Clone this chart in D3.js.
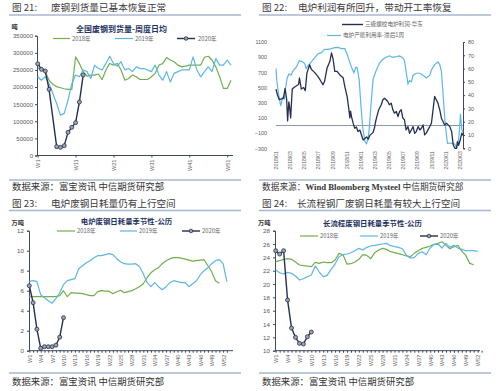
<!DOCTYPE html>
<html><head><meta charset="utf-8">
<script src="https://cdn.jsdelivr.net/npm/d3@7"></script>
<style>body{margin:0;background:#fff}svg{display:block}</style>
</head><body>
<svg id="c" width="500" height="391"></svg>
<script>
// ---------------- DATA ----------------
// Fig 21: scrap arrivals, weekly daily average (tons)
const p1TickWeeks = [1, 11, 21, 31, 41, 51];
const p1YTicks = [0, 50000, 100000, 150000, 200000, 250000, 300000, 350000];
const arrival2018 = [256000,251000,245000,220000,208000,201000,198000,195000,193000,193000,288000,269000,245000,232000,235000,235000,238000,222000,250000,269000,264000,269000,250000,220000,225000,235000,230000,222000,222000,222000,230000,240000,264000,269000,286000,279000,274000,264000,259000,261000,264000,264000,264000,264000,287000,290000,279000,259000,230000,196000,196000,220000];
const arrival2019 = [230000,220000,230000,210000,181000,152000,118000,123000,162000,210000,235000,230000,250000,245000,225000,264000,254000,250000,269000,290000,269000,261000,274000,250000,254000,245000,259000,254000,254000,250000,245000,264000,235000,220000,245000,215000,240000,245000,250000,250000,250000,288000,250000,230000,245000,259000,245000,283000,264000,264000,279000,264000];
const arrival2020 = [268000,251700,246800,193300,null,25800,23800,28700,67700,82300,95900,156300,235100];

// Fig 22: EAF profit (left) and EAF capacity utilisation lagged 1 week (right)
const profitDates = ["2018-01-01","2018-01-07","2018-01-15","2018-01-25","2018-02-02","2018-02-09","2018-02-16","2018-02-20","2018-02-25","2018-02-28","2018-03-05","2018-03-12","2018-03-19","2018-03-29","2018-04-08","2018-04-12","2018-04-20","2018-04-30","2018-05-07","2018-05-14","2018-05-26","2018-06-02","2018-06-16","2018-06-30","2018-07-10","2018-07-22","2018-07-29","2018-08-09","2018-08-21","2018-08-28","2018-09-04","2018-09-11","2018-09-21","2018-10-02","2018-10-17","2018-10-24","2018-11-03","2018-11-11","2018-11-15","2018-11-18","2018-11-22","2018-11-29","2018-12-06","2018-12-13","2018-12-20","2018-12-28","2019-01-04","2019-01-11","2019-01-19","2019-01-26","2019-02-02","2019-02-09","2019-02-23","2019-03-01","2019-03-05","2019-03-11","2019-03-19","2019-03-30","2019-04-06","2019-04-13","2019-04-20","2019-04-27","2019-05-04","2019-05-12","2019-05-19","2019-05-26","2019-06-03","2019-06-10","2019-06-17","2019-06-24","2019-07-01","2019-07-08","2019-07-15","2019-07-23","2019-07-30","2019-08-07","2019-08-14","2019-08-21","2019-08-28","2019-09-05","2019-09-12","2019-09-19","2019-09-26","2019-10-03","2019-10-10","2019-10-17","2019-10-25","2019-11-01","2019-11-08","2019-11-15","2019-11-22","2019-11-29","2019-12-07","2019-12-14","2019-12-21","2019-12-28","2020-01-05","2020-01-12","2020-01-19","2020-01-27","2020-02-03","2020-02-10","2020-02-17","2020-02-21","2020-02-26","2020-03-04","2020-03-11","2020-03-16"];
const profitValues = [480,405,340,350,360,490,340,60,310,260,100,480,500,520,540,626,480,500,460,690,800,740,700,647,600,537,580,758,846,957,870,714,714,670,630,516,383,207,100,190,118,31,-35,-20,-80,-60,-124,-190,-170,-150,-180,-130,-90,-30,40,118,207,273,339,360,340,317,273,295,207,163,185,118,185,207,97,75,-58,-14,-102,-58,-14,-102,-80,-14,-58,-36,8,-124,-100,-58,-14,30,207,383,339,295,207,97,52,8,30,8,-14,-80,-256,-300,-300,-213,-260,-190,-100,-130];
const rateDates = ["2018-01-01","2018-01-04","2018-01-11","2018-01-21","2018-01-29","2018-02-06","2018-02-11","2018-02-18","2018-02-26","2018-03-07","2018-03-14","2018-03-29","2018-04-12","2018-04-26","2018-05-04","2018-05-11","2018-05-18","2018-06-02","2018-06-16","2018-06-30","2018-07-15","2018-07-29","2018-08-13","2018-08-28","2018-09-11","2018-09-25","2018-10-10","2018-10-24","2018-11-03","2018-11-12","2018-11-22","2018-12-02","2018-12-11","2018-12-16","2018-12-25","2019-01-01","2019-01-09","2019-01-19","2019-01-26","2019-02-02","2019-02-06","2019-02-15","2019-02-23","2019-03-07","2019-03-22","2019-04-06","2019-04-20","2019-05-04","2019-05-19","2019-06-03","2019-06-17","2019-07-01","2019-07-08","2019-07-15","2019-07-23","2019-07-30","2019-08-07","2019-08-14","2019-08-28","2019-09-12","2019-09-26","2019-10-10","2019-10-25","2019-11-01","2019-11-15","2019-11-29","2019-12-07","2019-12-14","2019-12-21","2019-12-28","2020-01-02","2020-01-09","2020-01-19","2020-02-03","2020-02-10","2020-02-17","2020-02-24","2020-03-01","2020-03-05","2020-03-11","2020-03-16"];
const rateValues = [60,52,42,32,38,37,45,53,56,55,58,61,66,65,64,60,62,65,68,71,72,74.5,74.5,75,75.7,76,75,75,71,66,61,57,61,61,52,33.5,16,5,3.5,8,14,35,52,58,64,67,68.5,69.6,68.5,69,69.6,68,66,58,48.5,51,50,55,56.5,56.5,55,53,55,59,63,65,63,58,41,23.5,14,3.7,4,3.5,3,0.5,3,14,26,14,12];
const p2LeftTicks = [-300,-100,100,300,500,700,900,1100];
const p2RightTicks = [0,10,20,30,40,50,60,70,80];
const p2DateTicks = ["2018/01","2018/03","2018/05","2018/07","2018/09","2018/11","2019/01","2019/03","2019/05","2019/07","2019/09","2019/11","2020/01","2020/03"];
const p2SeriesNames = ["三级螺纹电炉利润-华东","电炉产能利用率-滞后1周"];

// Fig 23: EAF daily scrap consumption (10k tons)
const p3YTicks = [0,2,4,6,8,10,12];
const seasonTickWeeks = [1,4,7,10,13,16,19,22,25,28,31,34,37,40,43,46,49,52];
const eaf2018 = [5.4,5.4,5.4,5.4,5.4,5.4,5.4,5.4,5.5,6.0,5.4,5.8,5.75,5.75,5.7,5.6,5.5,5.5,5.9,6.0,5.95,5.95,5.7,5.9,6.05,5.8,5.9,6.0,6.2,6.4,6.7,7.3,7.8,8.1,8.3,8.7,9.0,9.2,9.3,9.3,9.25,9.15,9.05,8.95,9.0,9.05,9.1,8.5,7.9,7.0,6.75];
const eaf2019 = [6.9,7.0,6.9,5.6,5.3,5.0,4.75,5.2,5.8,6.6,7.0,7.1,7.2,8.2,8.5,8.8,9.0,9.3,9.5,9.5,9.6,9.7,9.6,9.2,8.9,8.7,8.65,8.65,8.7,8.4,7.7,6.8,6.4,6.8,6.4,6.1,6.4,6.8,7.0,6.9,6.8,6.8,6.4,6.7,7.0,7.6,8.0,8.3,8.7,9.0,9.1,8.7,6.9];
const eaf2020 = [6.5,4.8,2.15,0.25,0.4,0.4,0.4,0.55,1.35,3.3];

// Fig 24: long-process mills daily scrap consumption (10k tons)
const p4YTicks = [10,12,14,16,18,20,22,24,26,28];
const long2018 = [23.35,23.5,23.7,23.8,23.7,23.3,22.85,22.75,22.7,22.6,23.25,23.1,23.3,23.2,23.2,23.6,24.6,24.4,23.0,23.05,23.3,23.7,24.4,24.3,23.8,24.7,25.1,25.35,25.2,24.85,24.7,24.55,24.4,24.2,24.1,24.6,25.0,25.35,25.5,25.7,25.95,26.1,26.35,25.8,25.3,25.6,25.8,24.95,24.3,23.1,22.9];
const long2019 = [22.1,21.7,21.5,21.75,21.6,21.2,20.6,20.8,21.1,21.35,22.7,21.8,21.1,21.3,22.2,23.0,24.1,24.4,24.5,24.7,25.0,25.35,25.1,25.5,25.7,25.8,25.9,26.0,26.1,25.75,25.6,25.5,25.3,24.3,23.9,23.95,24.6,24.85,24.4,25.4,25.95,26.0,25.4,26.1,25.5,25.8,25.4,25.2,25.0,25.0,25.0,24.9];
const long2020 = [25.0,24.5,25.0,17.6,13.4,12.0,11.1,11.0,12.1,12.8];

const yearLabels = ["2018年","2019年","2020年"];

// ---------------- STYLE ----------------
const COL = {green:"#72ae4c", blue:"#5cb6e6", navy:"#25304f", axis:"#3e4860", tick:"#595959",
  title:"#3a3a3a", rule:"#a8b9cf", chartTitle:"#1f3462", zero:"#8d97a5", marker:"#9ca3ad"};
const CJK = "'Noto Sans CJK SC','Noto Sans',sans-serif";
const LAT = "'Liberation Sans',Arial,sans-serif";
const svg = d3.select("#c");

// ---------------- FRAMES ----------------
function frame(x0, yTitle, yRule, yFootRule, yFoot, num, text, footer, textX, footSize) {
  const g = svg.append("g");
  g.append("text").attr("x", x0 + 12).attr("y", yTitle).attr("font-family", CJK).attr("font-size", 9.6)
    .attr("fill", COL.title).text("图 " + num + ":");
  g.append("text").attr("x", x0 + textX).attr("y", yTitle).attr("font-family", CJK).attr("font-size", 9.6)
    .attr("fill", COL.title).text(text);
  g.append("line").attr("x1", x0 + 9).attr("x2", x0 + 241).attr("y1", yRule).attr("y2", yRule)
    .attr("stroke", COL.rule).attr("stroke-width", 1.6);
  g.append("line").attr("x1", x0 + 9).attr("x2", x0 + 241).attr("y1", yFootRule).attr("y2", yFootRule)
    .attr("stroke", COL.rule).attr("stroke-width", 1.6);
  const f = g.append("text").attr("x", x0 + 12).attr("y", yFoot).attr("font-size", footSize || 9.4).attr("fill", "#333");
  footer.forEach(p => f.append("tspan").attr("font-family", p.latin ? "'Liberation Serif',serif" : CJK)
    .attr("font-weight", p.latin ? "bold" : null).text(p.t));
}
frame(0, 10.5, 15, 180, 189.5, 21, "废钢到货量已基本恢复正常", [{t:"数据来源：富宝资讯 中信期货研究部"}], 51);
frame(250, 10.5, 15, 180, 189.5, 22, "电炉利润有所回升，带动开工率恢复", [{t:"数据来源："},{t:"Wind Bloomberg Mysteel ",latin:true},{t:"中信期货研究部"}], 48, 8.7);
frame(0, 206.5, 210.5, 373, 384.5, 23, "电炉废钢日耗量仍有上行空间", [{t:"数据来源：富宝资讯 中信期货研究部"}], 51);
frame(250, 206.5, 210.5, 373, 384.5, 24, "长流程钢厂废钢日耗量有较大上行空间", [{t:"数据来源：富宝资讯 中信期货研究部"}], 47);

// ---------------- HELPERS ----------------
function styleAxis(sel, fs) {
  sel.selectAll(".domain").attr("stroke", COL.axis).attr("stroke-width", 1);
  sel.selectAll(".tick line").attr("stroke", COL.axis);
  sel.selectAll("text").attr("font-family", LAT).attr("font-size", fs).attr("fill", COL.tick);
}
function rotLabels(sel) {
  sel.selectAll("text").attr("transform", "rotate(-90)").attr("text-anchor", "end")
    .attr("x", -4).attr("y", 0).attr("dy", "0.35em");
}
function legend(items, y) {
  items.forEach(it => {
    svg.append("line").attr("x1", it.x1).attr("x2", it.x2).attr("y1", y).attr("y2", y)
      .attr("stroke", it.color).attr("stroke-width", it.w || 1.2);
    if (it.marker) svg.append("circle").attr("cx", (it.x1 + it.x2) / 2).attr("cy", y).attr("r", 1.8)
      .attr("fill", COL.marker).attr("stroke", COL.navy).attr("stroke-width", 0.8);
    svg.append("text").attr("x", it.tx).attr("y", y).attr("dy", "0.35em").attr("font-family", CJK)
      .attr("font-size", it.fs || 5.8).attr("fill", "#666").text(it.label);
  });
}
function drawSeries(x, y, values, color, width, markers) {
  const pts = values.map((v, i) => ({w: i + 1, v})).filter(d => d.v !== null);
  svg.append("path").datum(pts).attr("fill", "none").attr("stroke", color).attr("stroke-width", width)
    .attr("stroke-linejoin", "round").attr("d", d3.line().x(d => x(d.w)).y(d => y(d.v)));
  if (markers) svg.append("g").selectAll("circle").data(pts).join("circle")
    .attr("cx", d => x(d.w)).attr("cy", d => y(d.v)).attr("r", 2)
    .attr("fill", COL.marker).attr("stroke", COL.navy).attr("stroke-width", 0.8);
}
function chartTitle(cx, y, t, fs) {
  svg.append("text").attr("x", cx).attr("y", y).attr("text-anchor", "middle").attr("font-family", CJK)
    .attr("font-weight", "bold").attr("font-size", fs).attr("fill", COL.chartTitle).text(t);
}
function unit(x, y, t) {
  svg.append("text").attr("x", x).attr("y", y).attr("font-family", CJK).attr("font-weight", "bold")
    .attr("font-size", 6.2).attr("fill", "#333").text(t);
}

// ---------------- PANEL 1 ----------------
{
  const x = d3.scaleLinear().domain([1, 52]).range([37.7, 37.7 + 51 * 3.79]);
  const y = d3.scaleLinear().domain([0, 350000]).range([155.5, 35.7]);
  unit(11.5, 28.5, "吨");
  chartTitle(121.5, 31.5, "全国废钢到货量-周度日均", 8);
  legend([
    {x1: 53, x2: 70, tx: 72, color: COL.green, label: yearLabels[0]},
    {x1: 115, x2: 133, tx: 135, color: COL.blue, label: yearLabels[1]},
    {x1: 177, x2: 195, tx: 198, color: COL.navy, label: yearLabels[2], marker: true, w: 1.4}
  ], 38.5);
  const ya = svg.append("g").attr("transform", "translate(37,0)")
    .call(d3.axisLeft(y).tickValues(p1YTicks).tickSize(2).tickPadding(2).tickFormat(d3.format("d")));
  styleAxis(ya, 6);
  const xa = svg.append("g").attr("transform", "translate(0,155.5)")
    .call(d3.axisBottom(x).tickValues(p1TickWeeks).tickSize(2).tickFormat(d => "W" + d));
  xa.select(".domain").attr("d", "M37,0H233");
  styleAxis(xa, 5.6); rotLabels(xa);
  drawSeries(x, y, arrival2018, COL.green, 1.2);
  drawSeries(x, y, arrival2019, COL.blue, 1.2);
  drawSeries(x, y, arrival2020, COL.navy, 1.4, true);
}

// ---------------- PANEL 2 ----------------
{
  const parse = d3.timeParse("%Y-%m-%d");
  const x = d3.scaleTime().domain([parse("2018-01-01"), parse("2020-03-16")]).range([276, 463]);
  const yl = d3.scaleLinear().domain([-300, 1100]).range([148.3, 42]);
  const yr = d3.scaleLinear().domain([0, 80]).range([148.3, 42]);
  legend([{x1: 342, x2: 363, tx: 365, color: COL.navy, label: p2SeriesNames[0], w: 1.4, fs: 5.6}], 24.5);
  legend([{x1: 327, x2: 341, tx: 343, color: COL.blue, label: p2SeriesNames[1], fs: 5.6}], 35.5);
  const ya = svg.append("g").attr("transform", "translate(276,0)")
    .call(d3.axisLeft(yl).tickValues(p2LeftTicks).tickSize(0).tickPadding(9).tickFormat(d3.format("d")));
  ya.select(".domain").remove();
  styleAxis(ya, 5.4);
  const yra = svg.append("g").attr("transform", "translate(463,0)")
    .call(d3.axisRight(yr).tickValues(p2RightTicks).tickSize(2).tickPadding(3).tickFormat(d3.format("d")));
  styleAxis(yra, 5.4);
  // zero line (category axis crossing)
  svg.append("line").attr("x1", 276).attr("x2", 463).attr("y1", yl(0)).attr("y2", yl(0))
    .attr("stroke", COL.zero).attr("stroke-width", 1.2);
  const dateTickVals = p2DateTicks.map(s => d3.timeParse("%Y/%m")(s));
  const xa = svg.append("g").attr("transform", "translate(0,148.3)")
    .call(d3.axisBottom(x).tickValues(dateTickVals).tickSize(0).tickFormat(d3.timeFormat("%Y/%m")));
  xa.select(".domain").remove();
  styleAxis(xa, 5); rotLabels(xa);
  xa.selectAll("text").attr("x", -3);
  const rate = rateDates.map((d, i) => ({t: parse(d), v: rateValues[i]}));
  const profit = profitDates.map((d, i) => ({t: parse(d), v: profitValues[i]}));
  svg.append("path").datum(rate).attr("fill", "none").attr("stroke", COL.blue).attr("stroke-width", 1.2)
    .attr("d", d3.line().x(d => x(d.t)).y(d => yr(d.v)));
  svg.append("path").datum(profit).attr("fill", "none").attr("stroke", COL.navy).attr("stroke-width", 1.3)
    .attr("stroke-linejoin", "round").attr("d", d3.line().x(d => x(d.t)).y(d => yl(d.v)));
}

// ---------------- PANELS 3 & 4 ----------------
function seasonal(o) {
  const x = d3.scaleLinear().domain([1, 52]).range([o.x0, o.x0 + 51 * o.step]);
  const y = d3.scaleLinear().domain(o.yDomain).range([350.7, 230.7]);
  unit(o.ux, 224.5, "万吨");
  chartTitle(o.tcx, o.ty, o.title, 7.4);
  legend(o.legend, o.ly);
  const ya = svg.append("g").attr("transform", `translate(${o.ax},0)`)
    .call(d3.axisLeft(y).tickValues(o.yTicks).tickSize(2).tickPadding(3));
  styleAxis(ya, 6.2);
  const xa = svg.append("g").attr("transform", "translate(0,350.7)")
    .call(d3.axisBottom(x).tickValues(d3.range(1, 54)).tickSize(2)
      .tickFormat(d => seasonTickWeeks.includes(d) ? "W" + d : ""));
  xa.select(".domain").attr("d", `M${o.ax},0H${o.axEnd}`);
  styleAxis(xa, 5.6); rotLabels(xa);
  drawSeries(x, y, o.s2018, COL.green, 1.2);
  drawSeries(x, y, o.s2019, COL.blue, 1.2);
  drawSeries(x, y, o.s2020, COL.navy, 1.4, true);
}
seasonal({x0: 29.3, step: 3.8, ax: 29, axEnd: 233, yDomain: [0, 12], yTicks: p3YTicks, ux: 11.5, tcx: 126.5, ty: 224,
  title: "电炉废钢日耗量季节性-公历", ly: 231,
  legend: [
    {x1: 57, x2: 75, tx: 77, color: COL.green, label: yearLabels[0]},
    {x1: 120, x2: 137, tx: 139, color: COL.blue, label: yearLabels[1]},
    {x1: 182, x2: 200, tx: 202, color: COL.navy, label: yearLabels[2], marker: true, w: 1.4}
  ], s2018: eaf2018, s2019: eaf2019, s2020: eaf2020});
seasonal({x0: 275.7, step: 3.96, ax: 275, axEnd: 480, yDomain: [10, 28], yTicks: p4YTicks, ux: 258, tcx: 372.5, ty: 226,
  title: "长流程废钢日耗量季节性-公历", ly: 236,
  legend: [
    {x1: 300, x2: 318, tx: 320, color: COL.green, label: yearLabels[0]},
    {x1: 360, x2: 378, tx: 380, color: COL.blue, label: yearLabels[1]},
    {x1: 420, x2: 438, tx: 440, color: COL.navy, label: yearLabels[2], marker: true, w: 1.4}
  ], s2018: long2018, s2019: long2019, s2020: long2020});
</script>
</body></html>
